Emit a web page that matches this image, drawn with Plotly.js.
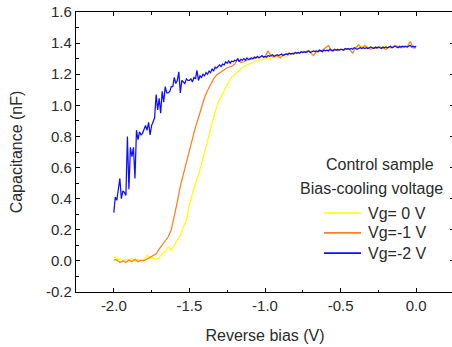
<!DOCTYPE html>
<html>
<head>
<meta charset="utf-8">
<script src="https://cdn.plot.ly/plotly-3.0.1.min.js"></script>
<style>
html,body{margin:0;padding:0;overflow:hidden;background:#fff;}
#chart{width:456px;height:347px;}
</style>
</head>
<body>
<div id="chart"></div>
<script>
// Reverse bias start (V) and step for each series
const biasStart = -2.0;
const stepFine = 0.01;
const stepCoarse = 0.02;

const seriesNames = ["Vg= 0 V", "Vg=-1 V", "Vg=-2 V"];
const seriesColors = ["#ffff00", "#ff7f1e", "#0f0fff"];

// Vg = 0 V, capacitance (nF) every 0.02 V from -2.00 to 0.00
const capVg0 = [
  0.03, 0.01, 0.015, 0.00, 0.01, 0.005, 0.015, 0.00, 0.01, -0.005,
  0.01, 0.035, 0.015, 0.02, 0.01, 0.02, 0.045, 0.06, 0.09, 0.07,
  0.10, 0.13, 0.165, 0.22, 0.26, 0.36, 0.43, 0.50, 0.55, 0.62,
  0.69, 0.77, 0.85, 0.92, 0.99, 1.04, 1.08, 1.12, 1.15, 1.18,
  1.20, 1.22, 1.235, 1.25, 1.26, 1.27, 1.28, 1.285, 1.29, 1.295,
  1.30, 1.305, 1.30, 1.31, 1.31, 1.315, 1.32, 1.315, 1.325, 1.33,
  1.33, 1.335, 1.34, 1.345, 1.34, 1.35, 1.345, 1.35, 1.355, 1.35,
  1.355, 1.36, 1.35, 1.355, 1.36, 1.36, 1.36, 1.365, 1.36, 1.37,
  1.375, 1.37, 1.38, 1.375, 1.37, 1.375, 1.37, 1.375, 1.37, 1.375,
  1.38, 1.37, 1.375, 1.38, 1.375, 1.38, 1.375, 1.38, 1.385, 1.375,
  1.38
];

// Vg = -1 V, every 0.02 V from -2.00 to 0.00
const capVg1 = [
  0.01, 0.005, -0.01, 0.00, -0.01, 0.005, -0.005, 0.01, -0.005, 0.005,
  0.00, 0.01, 0.02, 0.03, 0.045, 0.075, 0.10, 0.125, 0.155, 0.20,
  0.28, 0.38, 0.48, 0.555, 0.63, 0.71, 0.79, 0.86, 0.92, 0.99,
  1.05, 1.095, 1.135, 1.17, 1.195, 1.21, 1.225, 1.235, 1.245, 1.25,
  1.265, 1.30, 1.275, 1.28, 1.29, 1.295, 1.30, 1.305, 1.31, 1.315,
  1.31, 1.35, 1.315, 1.31, 1.32, 1.305, 1.325, 1.33, 1.335, 1.33,
  1.34, 1.335, 1.345, 1.34, 1.35, 1.34, 1.32, 1.345, 1.345, 1.355,
  1.37, 1.385, 1.35, 1.36, 1.35, 1.36, 1.355, 1.365, 1.36, 1.335,
  1.37, 1.39, 1.365, 1.385, 1.37, 1.36, 1.37, 1.365, 1.375, 1.37,
  1.36, 1.375, 1.37, 1.385, 1.375, 1.37, 1.38, 1.375, 1.41, 1.37,
  1.37
];

// Vg = -2 V, every 0.01 V from -2.00 to 0.00
const capVg2 = [
  0.31, 0.41, 0.39, 0.45, 0.53, 0.40, 0.45, 0.44, 0.42, 0.80,
  0.46, 0.73, 0.67, 0.73, 0.53, 0.84, 0.78, 0.83, 0.81, 0.82,
  0.84, 0.87, 0.84, 0.89, 0.81, 0.87, 0.895, 0.92, 1.07, 0.97,
  1.045, 0.95, 1.09, 1.02, 1.12, 1.08, 1.08, 1.09, 1.12, 1.12,
  1.18, 1.14, 1.16, 1.215, 1.08, 1.16, 1.15, 1.14, 1.17, 1.16,
  1.16, 1.17, 1.15, 1.18, 1.17, 1.225, 1.16, 1.19, 1.18, 1.20,
  1.19, 1.21, 1.20, 1.22, 1.21, 1.235, 1.22, 1.245, 1.24, 1.25,
  1.26, 1.25, 1.265, 1.26, 1.28, 1.27, 1.285, 1.27, 1.285, 1.28,
  1.29, 1.285, 1.30, 1.28, 1.295, 1.29, 1.30, 1.29, 1.305, 1.295,
  1.30, 1.305, 1.30, 1.31, 1.305, 1.315, 1.305, 1.31, 1.32, 1.31,
  1.315, 1.31, 1.32, 1.315, 1.32, 1.325, 1.315, 1.32, 1.325, 1.32,
  1.325, 1.33, 1.32, 1.325, 1.33, 1.325, 1.335, 1.33, 1.335, 1.33,
  1.34, 1.335, 1.34, 1.335, 1.345, 1.34, 1.345, 1.34, 1.345, 1.35,
  1.34, 1.345, 1.35, 1.345, 1.35, 1.345, 1.355, 1.35, 1.345, 1.355,
  1.35, 1.355, 1.35, 1.36, 1.355, 1.35, 1.36, 1.355, 1.36, 1.355,
  1.36, 1.36, 1.355, 1.365, 1.36, 1.365, 1.36, 1.365, 1.36, 1.37,
  1.365, 1.36, 1.365, 1.37, 1.365, 1.37, 1.365, 1.37, 1.365, 1.37,
  1.375, 1.37, 1.365, 1.375, 1.37, 1.375, 1.37, 1.365, 1.375, 1.37,
  1.375, 1.37, 1.375, 1.38, 1.37, 1.375, 1.38, 1.375, 1.37, 1.38,
  1.375, 1.38, 1.375, 1.38, 1.375, 1.38, 1.385, 1.375, 1.38, 1.375,
  1.38
];

const xTickVals = [-2.0, -1.5, -1.0, -0.5, 0.0];
const xTickText = ["-2.0", "-1.5", "-1.0", "-0.5", "0.0"];
const yTickVals = [-0.2, 0.0, 0.2, 0.4, 0.6, 0.8, 1.0, 1.2, 1.4, 1.6];
const yTickText = ["-0.2", "0.0", "0.2", "0.4", "0.6", "0.8", "1.0", "1.2", "1.4", "1.6"];

const caps = [capVg0, capVg1, capVg2];
const steps = [stepCoarse, stepCoarse, stepFine];

const traces = caps.map((c, i) => ({
  type: "scatter",
  mode: "lines",
  name: seriesNames[i],
  y: c,
  x0: biasStart,
  dx: steps[i],
  line: {color: seriesColors[i], width: 1.25},
  hoverinfo: "skip",
  showlegend: false
}));

const family = "Liberation Sans, Arial, sans-serif";
const tickFont = {family: family, size: 15, color: "#2b2b2b"};
const textFont = {family: family, size: 16, color: "#2b2b2b"};

const axisCommon = {
  showline: true, linecolor: "#000", linewidth: 1.2,
  mirror: "ticks", ticks: "inside", ticklen: 4, tickwidth: 1, tickcolor: "#000",
  showgrid: false, zeroline: false, tickfont: tickFont
};

// legend key placement (paper fractions)
const keyX0 = 0.656, keyX1 = 0.754, keyTextX = 0.766;
const keyY = [0.282, 0.211, 0.139];

const legendShapes = seriesNames.map((n, i) => ({
  type: "line", xref: "paper", yref: "paper",
  x0: keyX0, x1: keyX1, y0: keyY[i], y1: keyY[i],
  line: {color: seriesColors[i], width: 1.6}
}));
const legendTexts = seriesNames.map((n, i) => ({
  text: n, xref: "paper", yref: "paper", x: keyTextX, y: keyY[i],
  xanchor: "left", yanchor: "middle", showarrow: false, font: textFont
}));

const layout = {
  width: 456, height: 347,
  margin: {l: 76, r: 2, t: 12, b: 55},
  paper_bgcolor: "#fff", plot_bgcolor: "#fff",
  font: textFont,
  showlegend: false,
  xaxis: Object.assign({}, axisCommon, {
    range: [-2.25, 0.25],
    tickvals: xTickVals, ticktext: xTickText,
    minor: {dtick: 0.25, tick0: 0, ticks: "inside", ticklen: 2.5, tickcolor: "#000", tickwidth: 1},
    title: {text: "Reverse bias (V)", font: textFont, standoff: 16}
  }),
  yaxis: Object.assign({}, axisCommon, {
    range: [-0.2, 1.6],
    tickvals: yTickVals, ticktext: yTickText,
    minor: {dtick: 0.1, tick0: 0, ticks: "inside", ticklen: 2.5, tickcolor: "#000", tickwidth: 1},
    title: {text: "Capacitance (nF)", font: textFont, standoff: 19}
  }),
  shapes: legendShapes,
  annotations: [
    {text: "Control sample", xref: "paper", yref: "paper", x: 0.952, y: 0.457,
     xanchor: "right", yanchor: "middle", showarrow: false, font: textFont},
    {text: "Bias-cooling voltage", xref: "paper", yref: "paper", x: 0.976, y: 0.371,
     xanchor: "right", yanchor: "middle", showarrow: false, font: textFont}
  ].concat(legendTexts)
};

Plotly.newPlot("chart", traces, layout, {displayModeBar: false, staticPlot: true});
</script>
</body>
</html>
